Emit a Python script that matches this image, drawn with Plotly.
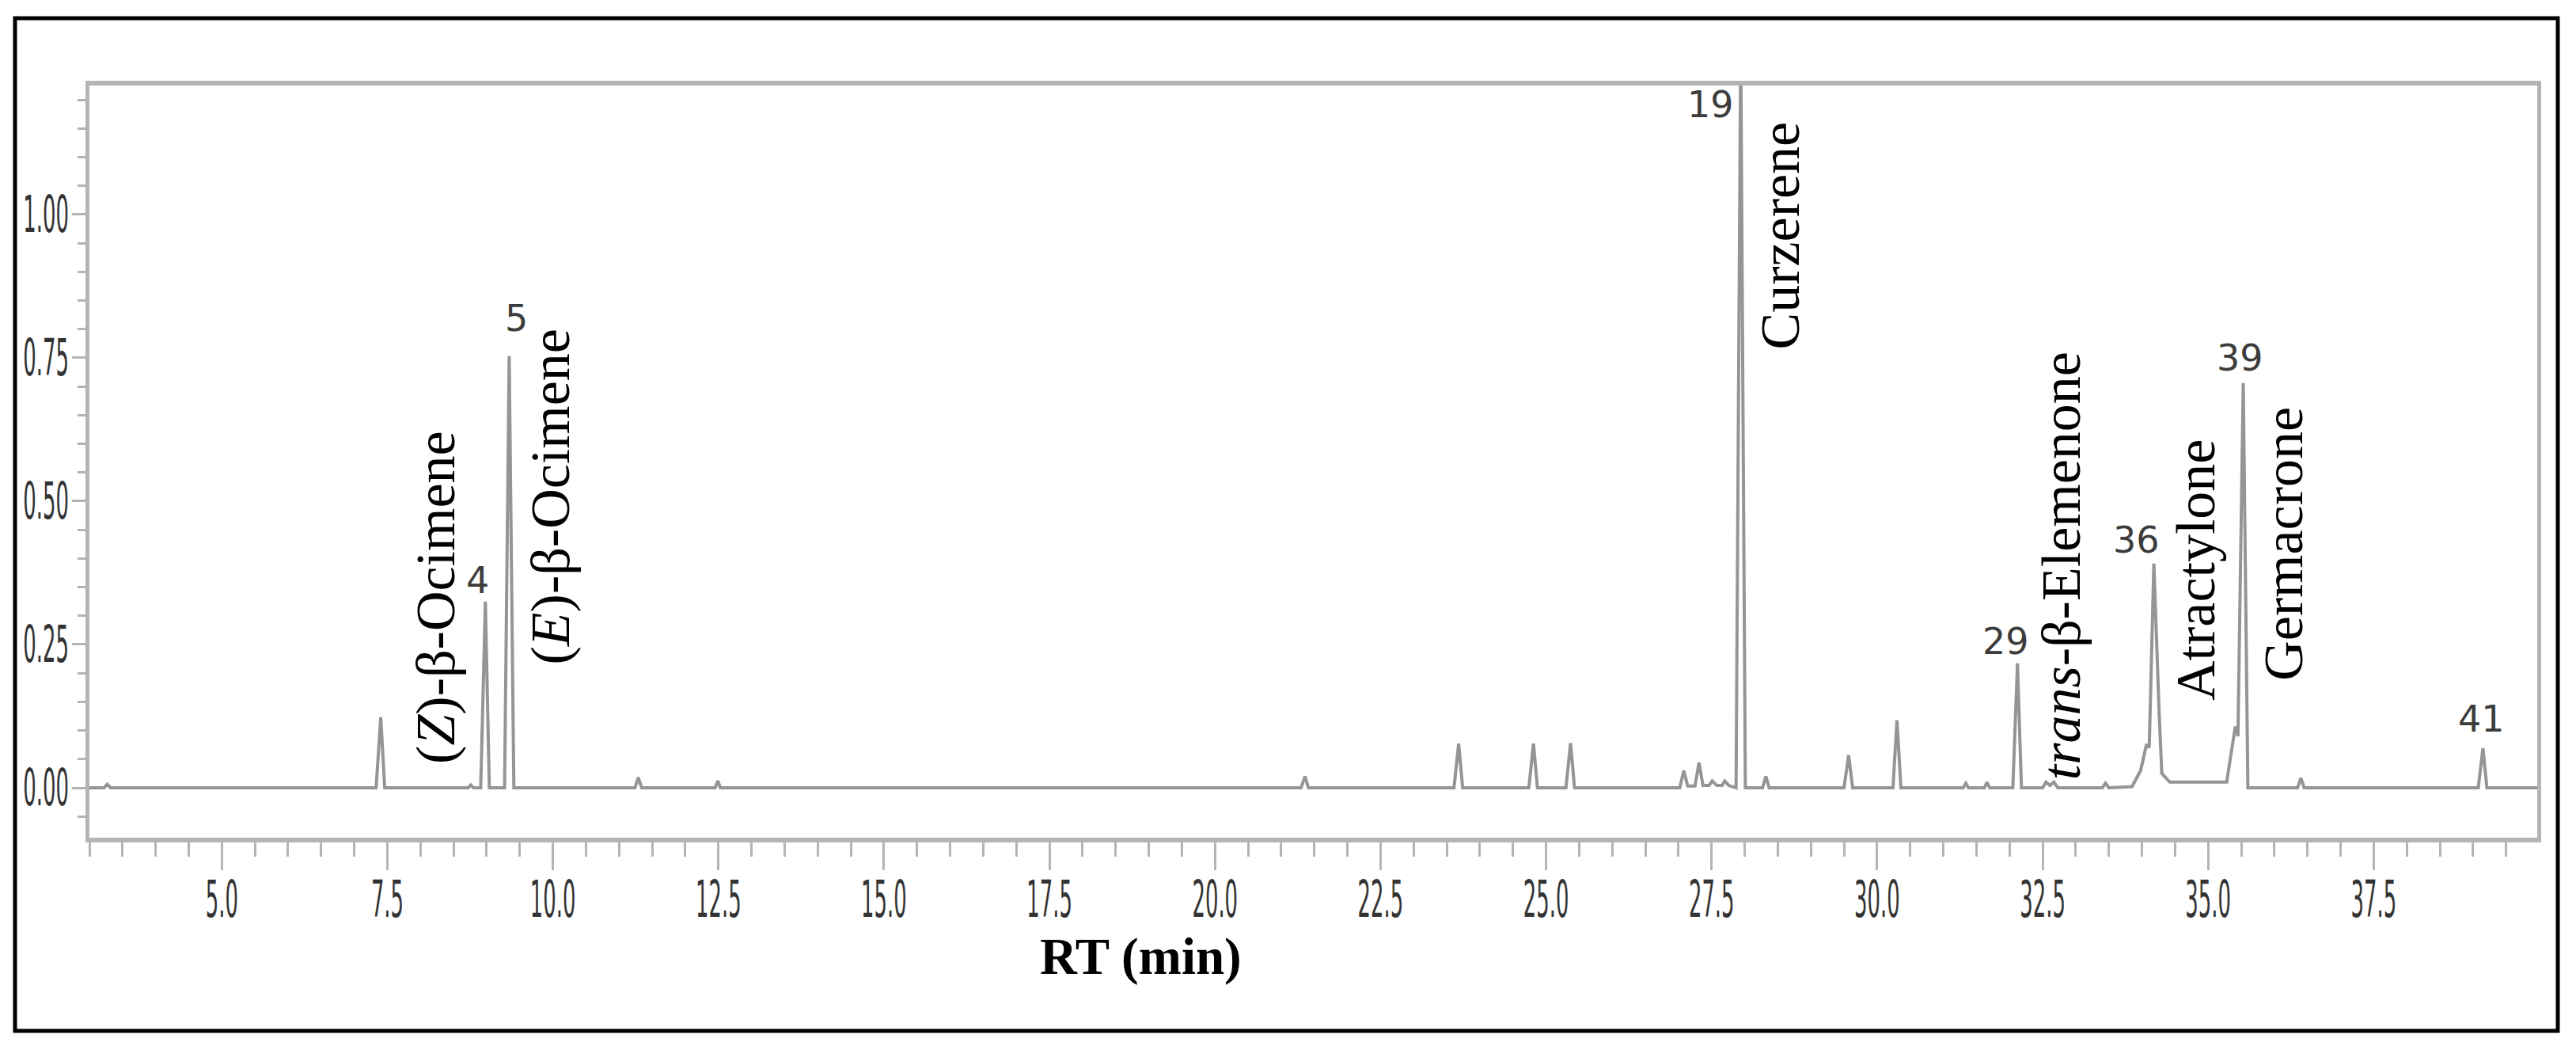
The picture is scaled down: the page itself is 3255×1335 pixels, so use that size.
import plotly.graph_objects as go

# ---------------- data ----------------
rt_min = [
    3.00,
    3.22, 3.27, 3.32,
    7.33, 7.40, 7.46,
    8.72, 8.76, 8.80,
    8.91, 8.98, 9.04,
    9.27, 9.34, 9.41,
    11.24, 11.29, 11.34,
    12.45, 12.49, 12.53,
    21.30, 21.36, 21.41,
    23.61, 23.68, 23.74,
    24.74, 24.81, 24.87,
    25.30, 25.37, 25.43,
    27.02, 27.08, 27.14, 27.25, 27.31, 27.37, 27.46, 27.51, 27.58, 27.66, 27.70, 27.76,
    27.87, 27.94, 28.01,
    28.27, 28.32, 28.37,
    29.50, 29.57, 29.63,
    30.24, 30.30, 30.36,
    31.30, 31.34, 31.38,
    31.62, 31.66, 31.70,
    32.05, 32.12, 32.18,
    32.50, 32.55, 32.61, 32.67, 32.73,
    33.40, 33.45, 33.50,
    33.85, 33.98, 34.07, 34.11, 34.18, 34.26, 34.30, 34.42, 35.28,
    35.41, 35.45, 35.53, 35.60,
    36.35, 36.40, 36.45,
    39.08, 39.15, 39.21,
    39.97,
]
signal = [
    0.000,
    0.000, 0.006, 0.000,
    0.000, 0.123, 0.000,
    0.000, 0.005, 0.000,
    0.000, 0.325, 0.000,
    0.000, 0.753, 0.000,
    0.000, 0.018, 0.000,
    0.000, 0.012, 0.000,
    0.000, 0.020, 0.000,
    0.000, 0.077, 0.000,
    0.000, 0.077, 0.000,
    0.000, 0.078, 0.000,
    0.000, 0.030, 0.003, 0.003, 0.044, 0.004, 0.004, 0.012, 0.004, 0.004, 0.012, 0.004,
    0.000, 1.300, 0.000,
    0.000, 0.020, 0.000,
    0.000, 0.057, 0.000,
    0.000, 0.118, 0.000,
    0.000, 0.008, 0.000,
    0.000, 0.010, 0.000,
    0.000, 0.217, 0.000,
    0.000, 0.010, 0.004, 0.010, 0.000,
    0.000, 0.008, 0.000,
    0.002, 0.030, 0.076, 0.070, 0.391, 0.130, 0.025, 0.010, 0.010,
    0.107, 0.090, 0.706, 0.000,
    0.000, 0.017, 0.000,
    0.000, 0.069, 0.000,
    0.000,
]

peak_numbers = ["4", "5", "19", "29", "36", "39", "41"]
compound_names = [
    "(<i>Z</i>)-β-Ocimene",
    "(<i>E</i>)-β-Ocimene",
    "Curzerene",
    "<i>trans</i>-β-Elemenone",
    "Atractylone",
    "Germacrone",
]
x_title = "RT (min)"

# ---------------- label placement (layout) ----------------
number_pos = [(8.86, 0.362), (9.45, 0.819), (27.49, 1.192), (31.94, 0.256),
              (33.92, 0.432), (35.48, 0.750), (39.13, 0.120)]
name_pos = [(8.23, 0.331), (9.96, 0.508), (28.54, 0.963), (32.78, 0.387),
            (34.82, 0.380), (36.14, 0.425)]

W, H = 3255, 1335
L, R, T, B = 113, 49, 108, 277
pw, ph = W - L - R, H - T - B

fig = go.Figure()
fig.add_trace(go.Scatter(
    x=rt_min, y=signal, mode="lines",
    line=dict(color="#959595", width=4),
    hoverinfo="skip", showlegend=False,
))

annotations = []
for txt, (ax, ay) in zip(peak_numbers, number_pos):
    annotations.append(dict(
        x=ax, y=ay, xref="x", yref="y", text=txt, showarrow=False,
        xanchor="center", yanchor="middle",
        font=dict(family="DejaVu Sans, Verdana, sans-serif", size=46, color="#3c3c3c"),
    ))
for txt, (ax, ay) in zip(compound_names, name_pos):
    annotations.append(dict(
        x=ax, y=ay, xref="x", yref="y", text=txt, showarrow=False,
        textangle=-90, xanchor="center", yanchor="middle",
        font=dict(family="Liberation Serif, Times New Roman, serif", size=70, color="#000000"),
    ))
# x-axis title
annotations.append(dict(
    x=(1441 - L) / pw, y=(H - B - 1208) / ph, xref="paper", yref="paper",
    text="<b>%s</b>" % x_title, showarrow=False, xanchor="center", yanchor="middle",
    font=dict(family="Liberation Serif, Times New Roman, serif", size=65, color="#000000"),
))

tick_font = dict(family="DejaVu Sans Condensed, Liberation Sans Narrow, Arial Narrow, sans-serif",
                 size=40, color="#333333")

fig.update_layout(
    width=W, height=H, autosize=False,
    margin=dict(l=L, r=R, t=T, b=B, pad=0, autoexpand=False),
    paper_bgcolor="white", plot_bgcolor="white",
    annotations=annotations,
    shapes=[dict(
        type="rect", xref="paper", yref="paper",
        x0=(19 - L) / pw, x1=(3232 - L) / pw,
        y0=(H - B - 1302) / ph, y1=(H - B - 23) / ph,
        line=dict(color="black", width=5), fillcolor="rgba(0,0,0,0)", layer="above",
    )],
    xaxis=dict(
        range=[3.0, 39.97], tick0=0, dtick=2.5, tickformat=".1f",
        ticks="outside", ticklen=35, tickwidth=3, tickcolor="#b4b4b4",
        minor=dict(dtick=0.5, tick0=0, ticks="outside", ticklen=18, tickwidth=3, tickcolor="#b4b4b4", showgrid=False),
        showline=True, linecolor="#b4b4b4", linewidth=6, mirror=True,
        showgrid=False, zeroline=False, tickfont=tick_font, automargin=False,
        ticklabelstandoff=3,
    ),
    yaxis=dict(
        range=[-0.087, 1.225], tick0=0, dtick=0.25, tickformat=".2f",
        ticks="outside", ticklen=17, tickwidth=3, tickcolor="#b4b4b4",
        minor=dict(dtick=0.05, tick0=0, ticks="outside", ticklen=10, tickwidth=3, tickcolor="#b4b4b4", showgrid=False),
        showline=True, linecolor="#b4b4b4", linewidth=5, mirror=True,
        showgrid=False, zeroline=False, tickfont=tick_font, automargin=False,
        ticklabelstandoff=-4,
    ),
)

# the reference tick labels use a tall, very condensed face: stretch the real text nodes
post = """
document.body.style.margin='0';document.body.style.overflow='hidden';
(function(){
  var SX = 0.72, SY = 1.6;
  document.querySelectorAll('.xtick > text, .ytick > text').forEach(function(t){
    try {
      var b = t.getBBox();
      var isY = t.parentNode.classList.contains('ytick');
      var cx = isY ? (b.x + b.width) : (b.x + b.width / 2);
      var cy = b.y + b.height / 2;
      var tr = t.getAttribute('transform') || '';
      t.setAttribute('transform', tr + ' translate(' + cx + ',' + cy + ') scale(' + SX + ',' + SY + ') translate(' + (-cx) + ',' + (-cy) + ')');
    } catch (e) {}
  });
})();
"""

fig.write_html("out.html", config={"displayModeBar": False}, post_script=post)
